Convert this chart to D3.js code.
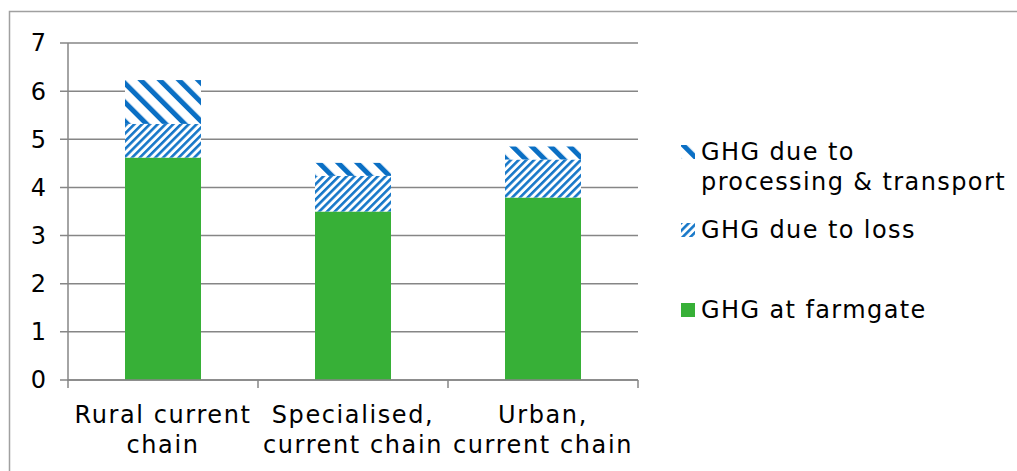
<!doctype html>
<html>
<head>
<script src="https://cdn.jsdelivr.net/npm/d3@7"></script>
<style>
  body { margin: 0; background: #fff; }
  text { font-family: "DejaVu Sans", Verdana, sans-serif; fill: #000; }
</style>
</head>
<body>
<svg width="1017" height="471"></svg>
<script>
// chart data
var categories = [["Rural current", "chain"], ["Specialised,", "current chain"], ["Urban,", "current chain"]];
var farmgate = [4.62, 3.50, 3.79];
var loss = [0.70, 0.74, 0.79];
var processing = [0.91, 0.27, 0.27];
var yTicks = [0, 1, 2, 3, 4, 5, 6, 7];
var seriesNames = ["GHG at farmgate", "GHG due to loss", "GHG due to processing & transport"];

var svg = d3.select("svg");

// outer frame (left and top edges visible)
svg.append("path")
   .attr("d", "M9.5,471 V11.5 H1017")
   .attr("fill", "none")
   .attr("stroke", "#a0a0a0")
   .attr("stroke-width", 1.5);

var defs = svg.append("defs");

// wide backslash stripes
var p1 = defs.append("pattern")
   .attr("id", "procPat")
   .attr("patternUnits", "userSpaceOnUse")
   .attr("width", 13.5).attr("height", 13.5)
   .attr("patternTransform", "rotate(-45)");
p1.append("rect").attr("width", 13.5).attr("height", 13.5).attr("fill", "#fff");
p1.append("rect").attr("x", 0).attr("width", 5).attr("height", 13.5).attr("fill", "#0a6fc4");

// narrow slash stripes
var p2 = defs.append("pattern")
   .attr("id", "lossPat")
   .attr("patternUnits", "userSpaceOnUse")
   .attr("width", 5.5).attr("height", 5.5)
   .attr("patternTransform", "rotate(45)");
p2.append("rect").attr("width", 5.5).attr("height", 5.5).attr("fill", "#fff");
p2.append("rect").attr("x", 0).attr("width", 2.6).attr("height", 5.5).attr("fill", "#1677c8");

var x0 = 68, x1 = 638, yTop = 43, yBot = 380;

var x = d3.scaleBand()
   .domain(d3.range(categories.length))
   .range([x0, x1])
   .paddingInner(0.6)
   .paddingOuter(0.3);

var y = d3.scaleLinear().domain([0, 7]).range([yBot, yTop]);

// gridlines
svg.append("g").selectAll("line")
   .data(yTicks)
   .enter().append("line")
   .attr("x1", x0 - 8).attr("x2", x1)
   .attr("y1", function(d) { return y(d); })
   .attr("y2", function(d) { return y(d); })
   .attr("stroke", "#868686")
   .attr("stroke-width", 1.5);

// y tick labels
svg.append("g").selectAll("text")
   .data(yTicks)
   .enter().append("text")
   .attr("x", 46)
   .attr("y", function(d) { return y(d); })
   .attr("dy", "0.35em")
   .attr("text-anchor", "end")
   .attr("font-size", "24px")
   .text(function(d) { return d; });

// stacked bars
var stackData = categories.map(function(c, i) {
    return { farm: farmgate[i], loss: loss[i], proc: processing[i] };
});
var stack = d3.stack().keys(["farm", "loss", "proc"])(stackData);
var fills = ["#37b037", "url(#lossPat)", "url(#procPat)"];

svg.append("g").selectAll("g")
   .data(stack)
   .enter().append("g")
   .attr("fill", function(d, i) { return fills[i]; })
   .selectAll("rect")
   .data(function(d) { return d; })
   .enter().append("rect")
   .attr("x", function(d, i) { return x(i); })
   .attr("width", x.bandwidth())
   .attr("y", function(d) { return y(d[1]); })
   .attr("height", function(d) { return y(d[0]) - y(d[1]); });

// y axis line
svg.append("line")
   .attr("x1", x0).attr("x2", x0)
   .attr("y1", yTop).attr("y2", yBot + 1)
   .attr("stroke", "#868686").attr("stroke-width", 1.5);

// x axis line and category ticks
var xAxisG = svg.append("g");
xAxisG.append("line")
   .attr("x1", x0).attr("x2", x1)
   .attr("y1", yBot).attr("y2", yBot)
   .attr("stroke", "#868686").attr("stroke-width", 1.5);
var step = (x1 - x0) / categories.length;
xAxisG.selectAll(".tk")
   .data(d3.range(categories.length + 1))
   .enter().append("line")
   .attr("x1", function(d) { return x0 + d * step; })
   .attr("x2", function(d) { return x0 + d * step; })
   .attr("y1", yBot).attr("y2", yBot + 8)
   .attr("stroke", "#868686").attr("stroke-width", 1.5);

// category labels
var lab = svg.append("g").selectAll("text")
   .data(categories)
   .enter().append("text")
   .attr("x", function(d, i) { return x(i) + x.bandwidth() / 2; })
   .attr("y", 423)
   .attr("text-anchor", "middle")
   .attr("font-size", "24px")
   .attr("letter-spacing", "1.6px");
lab.append("tspan")
   .attr("x", function(d, i) { return x(i) + x.bandwidth() / 2; })
   .text(function(d) { return d[0]; });
lab.append("tspan")
   .attr("x", function(d, i) { return x(i) + x.bandwidth() / 2; })
   .attr("dy", 30)
   .text(function(d) { return d[1]; });

// legend
var legendItems = [
    { name: seriesNames[2], fill: "url(#procPat)", y: 152 },
    { name: seriesNames[1], fill: "url(#lossPat)", y: 230 },
    { name: seriesNames[0], fill: "#37b037", y: 310 }
];
var lg = svg.append("g").selectAll("g")
   .data(legendItems)
   .enter().append("g");
lg.append("rect")
   .attr("x", 681).attr("width", 14).attr("height", 14)
   .attr("y", function(d) { return d.y - 7; })
   .attr("fill", function(d) { return d.fill; });
lg.each(function(d) {
    var t = d3.select(this).append("text")
       .attr("x", 701)
       .attr("y", d.y)
       .attr("dy", "0.35em")
       .attr("font-size", "24px")
       .attr("letter-spacing", "1.4px");
    if (d.name.indexOf("processing") > 0) {
        t.append("tspan").attr("x", 701).text("GHG due to");
        t.append("tspan").attr("x", 701).attr("dy", 30).text("processing & transport");
    } else {
        t.text(d.name);
    }
});
</script>
</body>
</html>
